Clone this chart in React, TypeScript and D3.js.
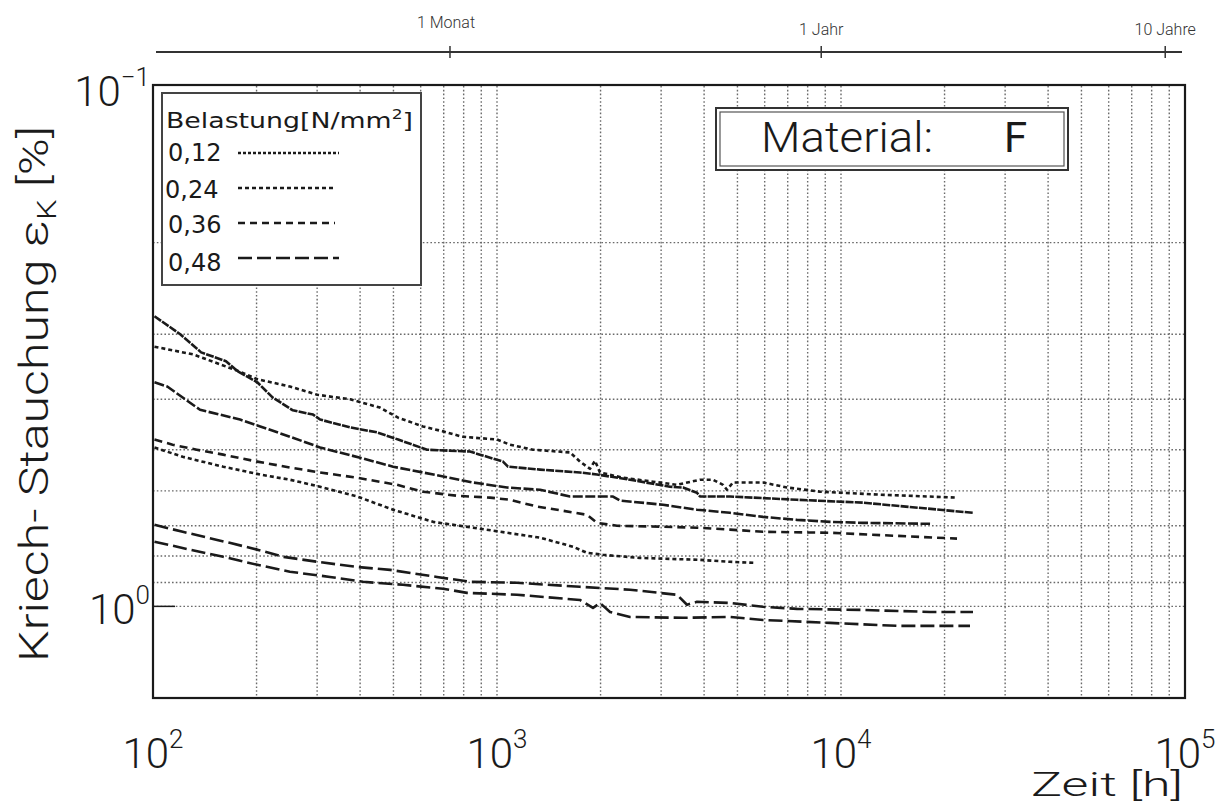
import React from 'react';
import * as d3 from 'd3';

// ---------- data ----------
const xDecades = [100, 1000, 10000, 100000];
const yMajor = [0.1, 1];
const legendLoads = ['0,12', '0,24', '0,36', '0,48'];
const topTickHours = [730, 8760, 87600];
const topTickLabels = ['1 Monat', '1 Jahr', '10 Jahre'];

// curve Q (starts highest, looks nearly solid)
const qHours = [101, 120, 138, 163, 177, 201, 223, 255, 292, 306, 374, 448, 516, 626, 835, 892, 1041, 1076, 1334, 1743, 1953, 2436, 3184, 3473, 3814, 3891, 4757, 7449, 11590, 24190];
const qStrain = [0.277, 0.300, 0.325, 0.338, 0.354, 0.371, 0.397, 0.420, 0.428, 0.4375, 0.453, 0.463, 0.478, 0.500, 0.504, 0.511, 0.527, 0.539, 0.546, 0.553, 0.558, 0.571, 0.589, 0.591, 0.605, 0.615, 0.615, 0.624, 0.632, 0.661];

// curve P (dotted, upper after crossing)
const pHours = [101, 131, 179, 201, 250, 300, 374, 457, 516, 609, 697, 791, 1000, 1091, 1273, 1630, 1743, 1863, 1927, 1992, 2324, 2842, 3337, 3891, 4246, 4539, 4662, 4853, 5933, 6966, 8690, 12987, 21740];
const pStrain = [0.317, 0.328, 0.354, 0.366, 0.378, 0.392, 0.400, 0.415, 0.434, 0.451, 0.461, 0.472, 0.478, 0.489, 0.500, 0.506, 0.527, 0.544, 0.525, 0.553, 0.566, 0.576, 0.584, 0.571, 0.571, 0.584, 0.597, 0.578, 0.578, 0.591, 0.602, 0.610, 0.618];

// curve R
const rHours = [101, 110, 137, 179, 205, 250, 306, 400, 499, 609, 852, 1069, 1334, 1630, 1953, 2174, 2278, 3039, 3814, 4757, 5933, 7449, 9290, 11590, 18150];
const rStrain = [0.371, 0.378, 0.419, 0.4375, 0.451, 0.472, 0.495, 0.518, 0.539, 0.553, 0.578, 0.591, 0.597, 0.615, 0.615, 0.615, 0.626, 0.638, 0.652, 0.661, 0.673, 0.682, 0.688, 0.691, 0.694];

// curve S
const sHours = [101, 114, 134, 160, 201, 250, 306, 392, 512, 609, 765, 954, 1091, 1307, 1556, 1826, 1953, 2233, 3039, 3814, 4757, 5933, 9290, 14550, 21740];
const sStrain = [0.478, 0.489, 0.500, 0.511, 0.527, 0.541, 0.553, 0.566, 0.584, 0.602, 0.613, 0.618, 0.624, 0.643, 0.655, 0.667, 0.691, 0.700, 0.703, 0.706, 0.712, 0.719, 0.722, 0.732, 0.741];

// curve T (dotted, ends early)
const tHours = [101, 122, 160, 205, 250, 306, 392, 499, 652, 852, 1069, 1334, 1663, 1826, 2032, 2604, 3891, 4757, 5623];
const tStrain = [0.495, 0.516, 0.539, 0.558, 0.571, 0.589, 0.615, 0.652, 0.688, 0.706, 0.722, 0.738, 0.768, 0.789, 0.796, 0.807, 0.814, 0.821, 0.825];

// curve U (long dashes)
const uHours = [101, 122, 167, 201, 239, 300, 392, 489, 669, 835, 1143, 1743, 2436, 3337, 3567, 3814, 4757, 5933, 7449, 11590, 18150, 24190];
const uStrain = [0.697, 0.719, 0.755, 0.778, 0.803, 0.821, 0.840, 0.851, 0.878, 0.897, 0.901, 0.917, 0.929, 0.950, 0.993, 0.980, 0.985, 1.002, 1.011, 1.016, 1.025, 1.025];

// curve V (long dashes, lowest)
const vHours = [101, 128, 160, 201, 250, 327, 408, 533, 697, 818, 1143, 1743, 1901, 1992, 2131, 2436, 3473, 4757, 5933, 9290, 14550, 23710];
const vStrain = [0.751, 0.778, 0.803, 0.832, 0.858, 0.878, 0.897, 0.909, 0.925, 0.942, 0.950, 0.972, 1.007, 0.985, 1.025, 1.048, 1.052, 1.048, 1.062, 1.076, 1.090, 1.090];

// ---------- layout / styles ----------
const W = 1223;
const H = 806;
const PL = 153, PR = 1185, PT = 86, PB = 698;
const FONT = "Roboto, 'Liberation Sans', sans-serif";
const LFONT = "'DejaVu Sans', sans-serif";
const INK = '#1a1a1a';
const GRID = '#6a6a6a';

const legendDash = ['3 2', '4 3', '7 5', '14 5'];

const series = [
  { h: qHours, v: qStrain, dash: '8 1.2' },
  { h: pHours, v: pStrain, dash: '4 3' },
  { h: rHours, v: rStrain, dash: '10 2.5' },
  { h: sHours, v: sStrain, dash: '8 5' },
  { h: tHours, v: tStrain, dash: '4 3' },
  { h: uHours, v: uStrain, dash: '14 5' },
  { h: vHours, v: vStrain, dash: '14 5' },
];

export default function App() {
  const x = d3.scaleLog().domain([1e2, 1e5]).range([PL, PR]);
  const y = d3.scaleLog().domain([0.1, 1.5]).range([PT, PB]);

  const vGrid: number[] = [];
  for (const d of [100, 1000, 10000]) {
    for (let k = 1; k <= 9; k++) {
      const val = d * k;
      if (val > 100) vGrid.push(val);
    }
  }
  const hGrid = [0.2, 0.3, 0.4, 0.5, 0.6, 0.7, 0.8, 0.9, 1.0];

  const line = d3
    .line<[number, number]>()
    .x((d) => x(d[0]))
    .y((d) => y(d[1]));

  const xLabelExp = ['2', '3', '4', '5'];
  const yLabelExp = ['\u22121', '0'];

  return (
    <svg
      width={W}
      height={H}
      viewBox={`0 0 ${W} ${H}`}
      style={{ position: 'absolute', left: 0, top: 0, background: '#fff' }}
    >
      <rect x={0} y={0} width={W} height={H} fill="#fff" />

      {/* top time axis */}
      <line x1={156} x2={1182} y1={52} y2={52} stroke="#333" strokeWidth={2} />
      {topTickHours.map((t, i) => (
        <g key={t}>
          <line x1={x(t)} x2={x(t)} y1={46} y2={58} stroke="#333" strokeWidth={1.5} />
          <text
            x={x(t) - (i === 0 ? 4 : 0)}
            y={i === 0 ? 28 : 35}
            textAnchor="middle"
            fontFamily={FONT}
            fontWeight={300}
            fontSize={16}
            fill="#333"
          >
            {topTickLabels[i]}
          </text>
        </g>
      ))}

      {/* grid */}
      {vGrid.map((g) => (
        <line
          key={'v' + g}
          x1={x(g)}
          x2={x(g)}
          y1={PT}
          y2={PB}
          stroke={GRID}
          strokeWidth={1.4}
          strokeDasharray="1.6 2.2"
        />
      ))}
      {hGrid.map((g) => (
        <line
          key={'h' + g}
          x1={PL}
          x2={PR}
          y1={y(g)}
          y2={y(g)}
          stroke={GRID}
          strokeWidth={1.4}
          strokeDasharray="1.6 2.2"
        />
      ))}
      <line x1={PL} x2={PL + 22} y1={y(1)} y2={y(1)} stroke={INK} strokeWidth={1.5} />

      {/* curves */}
      {series.map((s, i) => (
        <path
          key={i}
          d={line(s.h.map((h, j) => [h, s.v[j]] as [number, number])) || ''}
          fill="none"
          stroke={INK}
          strokeWidth={2.6}
          strokeDasharray={s.dash}
          strokeLinejoin="round"
        />
      ))}

      {/* plot frame */}
      <rect x={PL} y={PT - 1} width={PR - PL} height={PB - PT + 1} fill="none" stroke={INK} strokeWidth={2.2} />

      {/* legend */}
      <rect x={162} y={93} width={259} height={192} fill="#fff" stroke="#444" strokeWidth={2} />
      <text
        x={166}
        y={128}
        fontFamily={LFONT}
        fontSize={22}
        fontWeight={500}
        fill={INK}
        textLength={247}
        lengthAdjust="spacingAndGlyphs"
      >
        Belastung[N/mm<tspan dy={-9} fontSize={14}>2</tspan>
        <tspan dy={9}>]</tspan>
      </text>
      {legendLoads.map((l, i) => {
        const base = [161, 198, 233, 271][i];
        const ly = [153, 188, 223, 258][i];
        return (
          <g key={l}>
            <text x={i === 1 ? 165 : 168} y={base} fontFamily={LFONT} fontSize={24} fill={INK}>
              {l}
            </text>
            <line
              x1={238}
              x2={i === 0 || i === 3 ? 339 : 335}
              y1={ly}
              y2={ly}
              stroke={INK}
              strokeWidth={2.4}
              strokeDasharray={legendDash[i]}
            />
          </g>
        );
      })}

      {/* material box */}
      <rect x={716} y={108} width={352} height={62} fill="#fff" stroke="#333" strokeWidth={2} />
      <rect x={720} y={112} width={344} height={54} fill="none" stroke="#555" strokeWidth={1.2} />
      <text
        x={761}
        y={152}
        fontFamily={FONT}
        fontWeight={300}
        fontSize={42}
        fill={INK}
        textLength={172}
        lengthAdjust="spacingAndGlyphs"
      >
        Material:
      </text>
      <text x={1004} y={152} fontFamily={FONT} fontWeight={400} fontSize={42} fill={INK}>
        F
      </text>

      {/* x labels */}
      {xDecades.map((d, i) => (
        <text
          key={d}
          x={x(d)}
          y={768}
          textAnchor="middle"
          fontFamily={FONT}
          fontWeight={300}
          fontSize={42}
          fill={INK}
        >
          10<tspan dy={-20} fontSize={26}>{xLabelExp[i]}</tspan>
        </text>
      ))}
      <text
        x={1183}
        y={796}
        textAnchor="end"
        fontFamily={FONT}
        fontWeight={300}
        fontSize={34}
        fill={INK}
        textLength={152}
        lengthAdjust="spacingAndGlyphs"
      >
        Zeit [h]
      </text>

      {/* y labels */}
      {yMajor.map((v, i) => (
        <text
          key={v}
          x={150}
          y={i === 0 ? 106 : 624}
          textAnchor="end"
          fontFamily={FONT}
          fontWeight={300}
          fontSize={42}
          fill={INK}
        >
          10<tspan dy={-20} fontSize={26}>{yLabelExp[i]}</tspan>
        </text>
      ))}
      <text
        transform="translate(48,394) rotate(-90)"
        textAnchor="middle"
        fontFamily={FONT}
        fontWeight={300}
        fontSize={40}
        fill={INK}
        textLength={536}
        lengthAdjust="spacingAndGlyphs"
      >
        Kriech- Stauchung ε<tspan dy={8} fontSize={26}>K</tspan>
        <tspan dy={-8}> [%]</tspan>
      </text>
    </svg>
  );
}
